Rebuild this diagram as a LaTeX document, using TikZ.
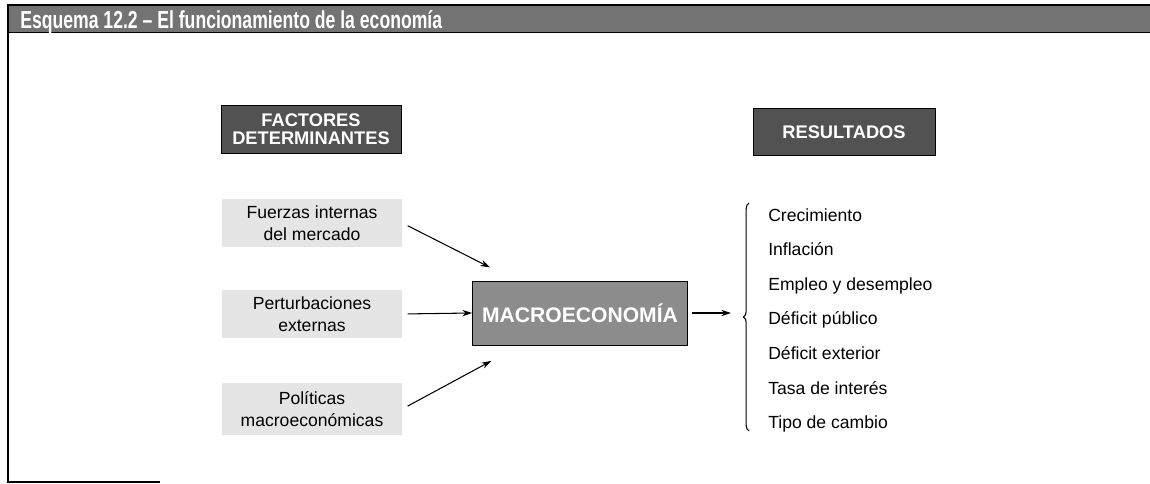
\documentclass[tikz,border=0pt]{standalone}
\usepackage{graphicx}
\usepackage{fontspec}
\setmainfont{Liberation Sans}
\usetikzlibrary{decorations.pathreplacing, arrows.meta, positioning, calc}

\begin{document}
\begin{tikzpicture}[>={Stealth[length=7pt, width=4.5pt]}, x=0.025cm, y=-0.025cm,
  head/.style={draw=black, fill=black!68, text=white, align=center, inner sep=0pt,
    font=\fontsize{13}{13}\selectfont\bfseries},
  factor/.style={fill=black!10, align=center, inner sep=0pt, minimum width=4.5cm,
    font=\fontsize{12.5}{15.5}\selectfont},
  item/.style={anchor=base west, inner sep=0pt, font=\fontsize{12.5}{15}\selectfont},
  link/.style={->, line width=0.75pt}]
  \useasboundingbox (0,0) rectangle (1150,484);
  % title bar and frame
  \fill[black!55] (8,5) rectangle (1150,32);
  \draw[line width=0.8pt] (1150,5) -- (8,5) -- (8,482) -- (160,482);
  \draw (8,32) -- (1150,32);
  \node[anchor=base west, text=white, inner sep=0pt] (titulo) at (20,29)
    {\resizebox{300pt}{\height}{\fontsize{17.5}{17.5}\selectfont\bfseries Esquema 12.2 -- El funcionamiento de la economía}};
  % headers
  \node[head, minimum width=4.5cm, minimum height=1.2cm] (fact) at (311,129) {FACTORES\\DETERMINANTES};
  \node[head, minimum width=4.55cm, minimum height=1.175cm] (res) at (844,132) {RESULTADOS};
  % factors
  \node[factor, minimum height=1.175cm] (fuerzas) at (312,223) {Fuerzas internas\\del mercado};
  \node[factor, minimum height=1.2cm] (pert) at (312,314) {Perturbaciones\\externas};
  \node[factor, minimum height=1.3cm] (pol) at (312,409) {Políticas\\macroeconómicas};
  \node[draw, fill=black!45, text=white, minimum width=5.375cm, minimum height=1.6cm,
    font=\fontsize{15}{15}\selectfont\bfseries] (macro) at (580,313) {MACROECONOMÍA};
  \draw[link, shorten <=0.15cm, shorten >=2.52cm] (fuerzas.east) -- (macro.center);
  \draw[link, shorten <=0.13cm] (pert.east) -- (macro.west);
  \draw[link, shorten <=0.15cm, shorten >=2.52cm] (pol.east) -- (macro.center);
  % results
  \coordinate (bt) at (731,313);
  \draw[link, shorten <=0.1cm] (macro.east) -- (bt);
  \draw[line width=0.75pt, decorate, decoration={brace, amplitude=4pt}] (749,431) -- (749,203);
  \foreach \t [count=\i] in {Crecimiento, Inflación, Empleo y desempleo, Déficit público,
    Déficit exterior, Tasa de interés, Tipo de cambio}
    \node[item] (r\i) at (768,186.5+34.6*\i) {\t};
\end{tikzpicture}
\end{document}
